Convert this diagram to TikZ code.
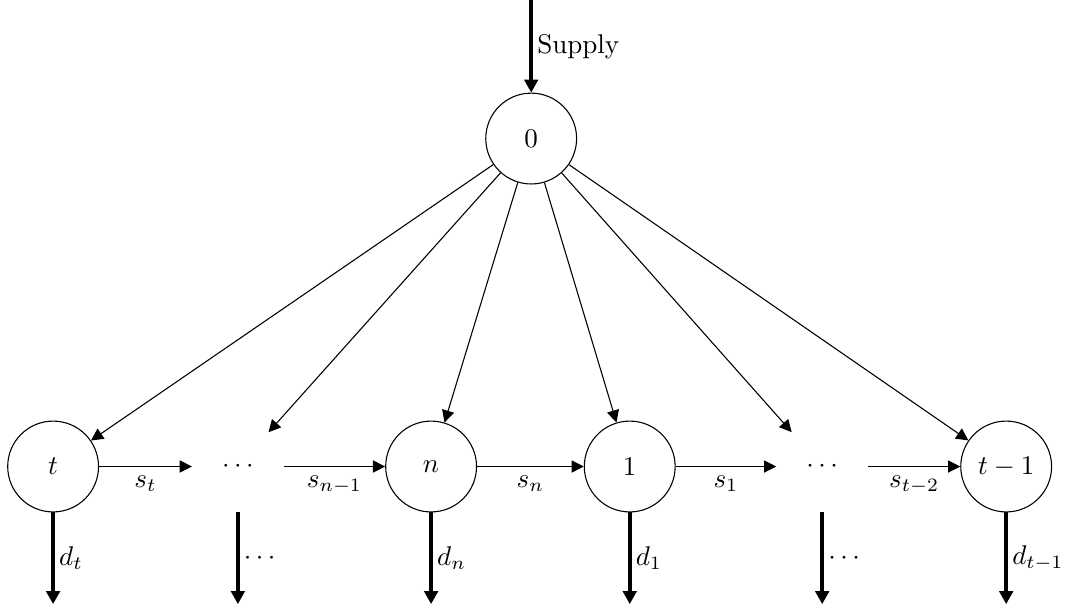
\documentclass[tikz,border=0pt]{standalone}
\usetikzlibrary{arrows.meta}

\begin{document}
\begin{tikzpicture}[>={Triangle[length=4.5pt,width=4.5pt]},
    stock/.style={circle, draw, minimum size=1.18cm, inner sep=0pt},
    gap/.style={circle, minimum size=1.18cm, inner sep=0pt},
    flow/.style={->, line width=1.5pt, >={Triangle[length=4.8pt,width=5pt]}},
    side/.style={right, inner sep=1.5pt}]
  \useasboundingbox (-5.6,-1.83) rectangle (8.26,6.06);
  % source and the chain of stores
  \node[stock] (N0) at (1.3,4.26) {$0$};
  \node[stock] (Nt) at (-4.91,0) {$t$};
  \node[gap] (G1) at (-2.51,0) {$\cdots$};
  \node[stock] (Nn) at (0,0) {$n$};
  \node[stock] (N1) at (2.58,0) {$1$};
  \node[gap] (G2) at (5.08,0) {$\cdots$};
  \node[stock] (Ntm) at (7.47,0) {$t-1$};
  \coordinate (top) at (1.3,6.06);
  % supply
  \draw[flow] (top) -- node[side] {Supply} (N0);
  % from 0 to every store
  \foreach \x in {Nt,G1,Nn,N1,G2,Ntm}
    \draw[->] (N0) -- (\x);
  % transfers
  \draw[->] (Nt) -- node[below] {$s_t$} (G1);
  \draw[->] (G1) -- node[below] {$s_{n-1}$} (Nn);
  \draw[->] (Nn) -- node[below] {$s_n$} (N1);
  \draw[->] (N1) -- node[below] {$s_1$} (G2);
  \draw[->] (G2) -- node[below] {$s_{t-2}$} (Ntm);
  % demands
  \foreach \x/\lab in {Nt/d_t,G1/\cdots,Nn/d_n,N1/d_1,G2/\cdots,Ntm/d_{t-1}}{
    \coordinate (\x-out) at ([yshift=-1.19cm]\x.south);
    \draw[flow] (\x.south) -- node[side] {$\lab$} (\x-out);
  }
\end{tikzpicture}
\end{document}
